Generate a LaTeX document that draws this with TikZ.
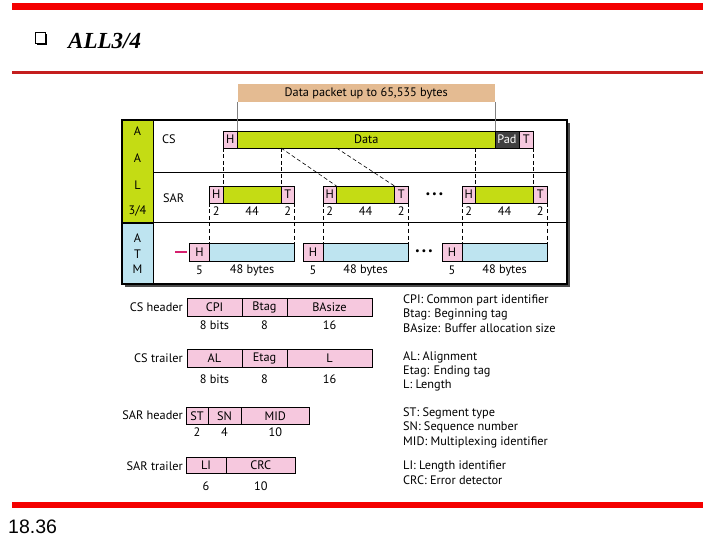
\documentclass[tikz,border=0pt]{standalone}
\usepackage{fontspec}
\setmainfont{Liberation Serif}
\newfontfamily\figfont{PT Sans}
\newfontfamily\pgfont{Liberation Sans}
\definecolor{aalgreen}{HTML}{C4DC14}
\definecolor{hpink}{HTML}{F6C8DE}
\definecolor{atmblue}{HTML}{BEE4F0}
\definecolor{tanbar}{HTML}{E4BB92}
\definecolor{padgray}{HTML}{404040}
\definecolor{barred}{HTML}{F40000}
\definecolor{linered}{HTML}{C41E1E}
\definecolor{dashmag}{HTML}{D6206E}
\tikzset{
  ff/.style={font=\figfont\fontsize{12.3}{13}\selectfont},
  cell/.style={draw=black, line width=0.6pt, inner sep=0pt, outer sep=0pt, anchor=north west, ff},
  pinkcell/.style={cell, fill=hpink},
  greencell/.style={cell, fill=aalgreen},
  bluecell/.style={cell, fill=atmblue},
  lbl/.style={inner sep=0pt, ff},
  dconn/.style={line width=0.6pt, dash pattern=on 4pt off 2.5pt},
  dotsnode/.style={inner sep=0pt, font=\figfont\fontsize{10.5}{11}\selectfont},
}
\newcommand\bx[6]{\node[#1, minimum width=#4, minimum height=#5] (#2) at (#3) {#6};}
\begin{document}
\begin{tikzpicture}[x=1pt,y=-1pt]
\useasboundingbox (0,0) rectangle (720,540);
% slide decoration
\fill[barred] (12,3) rectangle (703,9.7);
\fill[linered] (12,71) rectangle (703,74.5);
\fill[barred] (12,501.7) rectangle (703,507.5);
\fill[black] (37,34) rectangle (47,45);
\filldraw[fill=white, draw=black, line width=0.8pt] (35,32) rectangle (45,43);
\node[anchor=base west, inner sep=0pt, font=\fontsize{23}{26}\selectfont\bfseries\itshape] (title) at (68,48.3) {ALL3/4};
\node[anchor=base west, inner sep=0pt, font=\pgfont\fontsize{19.5}{22}\selectfont] (pgnum) at (8,533) {18.36};

% data packet bar
\node[cell, draw=none, fill=tanbar, minimum width=257.5, minimum height=18] (tan) at (237.5,84) {Data packet up to 65,535 bytes};

% frame
\fill[black!70] (125,123) rectangle (570,287);
\node[cell, fill=white, line width=1.3pt, minimum width=445, minimum height=164] (frame) at (122,120) {};
\node[cell, fill=aalgreen, minimum width=31, minimum height=103] (aalcol) at (122,120) {};
\node[cell, fill=atmblue, minimum width=31, minimum height=61] (atmcol) at (122,223) {};
\draw[line width=1pt] (aalcol.south west) -- (aalcol.south west -| frame.east);
\coordinate (sepL) at (153,173);
\draw[line width=1pt] (sepL) -- (sepL -| frame.east);
\draw[line width=1.3pt] (frame.north west) rectangle (frame.south east);

\node[lbl] (c1) at (137.5,131) {A};
\node[lbl] (c2) at (137.5,158) {A};
\node[lbl] (c3) at (137.5,185) {L};
\node[lbl] (c4) at (137.5,211) {3/4};
\node[lbl] (c5) at (137.5,238.5) {A};
\node[lbl] (c6) at (137.5,254) {T};
\node[lbl] (c7) at (137.5,269.5) {M};
\node[lbl, anchor=west] (cslbl) at (162,139.5) {CS};
\node[lbl, anchor=west] (sarlbl) at (163,198) {SAR};

% CS row
\bx{pinkcell}{csH}{223,131}{14.5}{17}{H}
\bx{greencell}{csD}{237.5,131}{257.5}{17}{Data}
\node[cell, fill=padgray, text=white, minimum width=24, minimum height=17] (csPad) at (495,131) {Pad};
\bx{pinkcell}{csT}{519,131}{14.5}{17}{T}
\draw[gray, line width=0.6pt] (tan.south west) -- (csD.north west);
\draw[gray, line width=0.6pt] (tan.south east) -- (csPad.north west);

% SAR row
\bx{pinkcell}{s1H}{209.5,186}{13.5}{17}{H}
\bx{greencell}{s1G}{223,186}{58}{17}{}
\bx{pinkcell}{s1T}{281,186}{13.5}{17}{T}
\bx{pinkcell}{s2H}{323,186}{13.5}{17}{H}
\bx{greencell}{s2G}{336.5,186}{58}{17}{}
\bx{pinkcell}{s2T}{394.5,186}{13.5}{17}{T}
\bx{pinkcell}{s3H}{462,186}{13.5}{17}{H}
\bx{greencell}{s3G}{475.5,186}{58}{17}{}
\bx{pinkcell}{s3T}{533.5,186}{13.5}{17}{T}
\node[dotsnode] (sdots) at (434.5,195) {•\,•\,•};
\foreach \s in {1,2,3}{
  \node[lbl] (n\s a) at (s\s H |- 0,211) {2};
  \node[lbl] (n\s b) at (s\s G |- 0,211) {44};
  \node[lbl] (n\s c) at (s\s T |- 0,211) {2};
}

% ATM row
\bx{pinkcell}{a1H}{189.5,243.5}{20}{17.5}{H}
\bx{bluecell}{a1B}{209.5,243.5}{85}{17.5}{}
\bx{pinkcell}{a2H}{303,243.5}{20}{17.5}{H}
\bx{bluecell}{a2B}{323,243.5}{85}{17.5}{}
\bx{pinkcell}{a3H}{442,243.5}{20}{17.5}{H}
\bx{bluecell}{a3B}{462,243.5}{85}{17.5}{}
\node[dotsnode] (adots) at (424,252) {•\,•\,•};
\node[fill=dashmag, inner sep=0pt, minimum width=12, minimum height=2.2] (mdash) at (181,252) {};
\foreach \s in {1,2,3}{
  \node[lbl] (m\s a) at (a\s H |- 0,270) {5};
  \node[lbl] (m\s b) at (a\s B |- 0,270) {48 bytes};
}

% dashed connectors CS -> SAR
\draw[dconn] (csH.south west) -- (s1H.north east);
\draw[dconn] (s1G.north east |- csD.south) -- (s1G.north east);
\draw[dconn] (s1G.north east |- csD.south) -- (s2G.north west);
\draw[dconn] (s2G.north west |- csD.south) -- (s2G.north east);
\draw[dconn] (s3G.north west |- csD.south) -- (s3G.north west);
\draw[dconn] (csT.south east) -- (s3G.north east);
% dashed connectors SAR -> ATM
\foreach \s in {1,2,3}{
  \draw[dconn] (s\s H.south west) -- (a\s B.north west);
  \draw[dconn] (s\s T.south east) -- (a\s B.north east);
}

% legend: CS header
\node[lbl, anchor=east] (lcsh) at (183,307) {CS header};
\bx{pinkcell}{cpi}{187,298}{55}{18}{CPI}
\bx{pinkcell}{btag}{242,298}{45}{18}{Btag}
\bx{pinkcell}{basize}{287,298}{85}{18}{BAsize}
\node[lbl] (w1) at (cpi |- 0,325) {8 bits};
\node[lbl] (w2) at (btag |- 0,325) {8};
\node[lbl] (w3) at (basize |- 0,325) {16};
\node[lbl, anchor=west] (d1) at (403,300) {CPI: Common part identifier};
\node[lbl, anchor=west] (d2) at (403,314) {Btag: Beginning tag};
\node[lbl, anchor=west] (d3) at (403,328) {BAsize: Buffer allocation size};

% legend: CS trailer
\node[lbl, anchor=east] (lcst) at (183,358) {CS trailer};
\bx{pinkcell}{al}{187,349}{55}{18}{AL}
\bx{pinkcell}{etag}{242,349}{45}{18}{Etag}
\bx{pinkcell}{ll}{287,349}{85}{18}{L}
\node[lbl] (w4) at (al |- 0,379) {8 bits};
\node[lbl] (w5) at (etag |- 0,379) {8};
\node[lbl] (w6) at (ll |- 0,379) {16};
\node[lbl, anchor=west] (d4) at (403,357) {AL: Alignment};
\node[lbl, anchor=west] (d5) at (403,371) {Etag: Ending tag};
\node[lbl, anchor=west] (d6) at (403,385) {L: Length};

% legend: SAR header
\node[lbl, anchor=east] (lsarh) at (183,415.5) {SAR header};
\bx{pinkcell}{st}{186,407}{22}{17.5}{ST}
\bx{pinkcell}{sn}{208,407}{33}{17.5}{SN}
\bx{pinkcell}{mid}{241,407}{68.5}{17.5}{MID}
\node[lbl] (w7) at (st |- 0,432) {2};
\node[lbl] (w8) at (sn |- 0,432) {4};
\node[lbl] (w9) at (mid |- 0,432) {10};
\node[lbl, anchor=west] (d7) at (403,413) {ST: Segment type};
\node[lbl, anchor=west] (d8) at (403,427.5) {SN: Sequence number};
\node[lbl, anchor=west] (d9) at (403,442) {MID: Multiplexing identifier};

% legend: SAR trailer
\node[lbl, anchor=east] (lsart) at (183,466) {SAR trailer};
\bx{pinkcell}{li}{186,457}{40}{16.5}{LI}
\bx{pinkcell}{crc}{226,457}{69.5}{16.5}{CRC}
\node[lbl] (w10) at (li |- 0,486) {6};
\node[lbl] (w11) at (crc |- 0,486) {10};
\node[lbl, anchor=west] (d10) at (403,466) {LI: Length identifier};
\node[lbl, anchor=west] (d11) at (403,480) {CRC: Error detector};
\end{tikzpicture}
\end{document}
